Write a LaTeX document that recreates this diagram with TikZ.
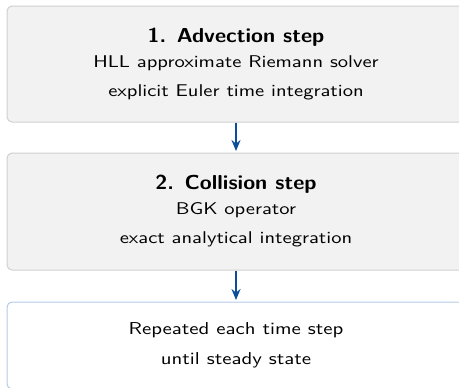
\documentclass[tikz,border=0pt]{standalone}
\usepackage{fontspec}
\usepackage{tikz}
\usetikzlibrary{arrows.meta}
\newfontfamily\bodyfont{lmsans10-regular.otf}[FakeStretch=1.21]
\newfontfamily\titlefont{lmsans10-bold.otf}[FakeStretch=1.075]
\definecolor{boxgray}{HTML}{F2F2F2}
\definecolor{boxline}{HTML}{D0D0D0}
\definecolor{loopline}{HTML}{B4CBE6}
\definecolor{arrowblue}{HTML}{0B4F9C}
\tikzset{
	stepbox/.style={draw=boxline, fill=boxgray, line width=0.5pt, rounded corners=2.5pt,
		minimum width=229pt, minimum height=58pt, inner sep=0pt, align=center,
		font=\bodyfont\fontsize{8.5}{14.5}\selectfont},
	loopbox/.style={stepbox, draw=loopline, fill=white, minimum height=43.5pt,
		font=\bodyfont\fontsize{8.6}{15}\selectfont},
	flow/.style={-{Stealth[length=5.5pt,width=4.5pt]}, line width=1pt, color=arrowblue, shorten >=0.75pt},
}
\newcommand{\steptitle}[1]{{\titlefont\fontsize{10.1}{12}\selectfont #1}}

\begin{document}
\begin{tikzpicture}[x=0.5pt, y=-0.5pt]
		%%%%% START %%%%%
		
		\useasboundingbox (0, 0) rectangle (459, 387);
		
		\node[stepbox] (adv) at (236, 64) {\steptitle{1. Advection step}\\[-2pt]
			HLL approximate Riemann solver\\
			explicit Euler time integration};
		
		\node[stepbox, minimum height=58.5pt] (col) at (236, 211.5) {\steptitle{2. Collision step}\\[-2pt]
			BGK operator\\
			exact analytical integration};
		
		\node[loopbox] (rep) at (236, 345.5) {Repeated each time step\\
			until steady state};
		
		\draw[flow] (adv.south) -- (col.north);
		\draw[flow] (col.south) -- (rep.north);
		
		%%%%% END %%%%%
	\end{tikzpicture}
\end{document}
